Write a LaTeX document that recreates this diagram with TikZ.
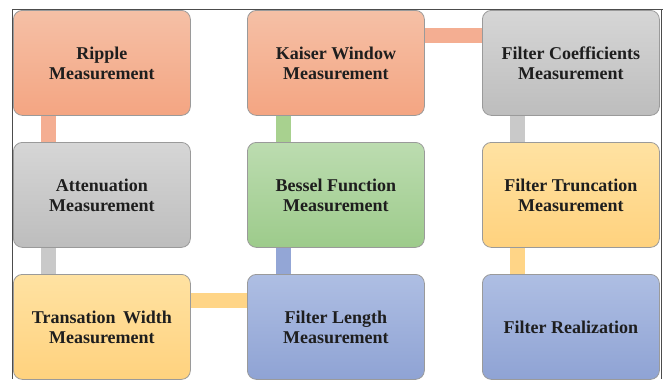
\documentclass[tikz,border=0pt]{standalone}
\usepackage{fontspec}
\setmainfont{Liberation Serif}
\usetikzlibrary{backgrounds}
\definecolor{orT}{HTML}{F5C0A6}\definecolor{orB}{HTML}{F4A582}\definecolor{orC}{HTML}{F4AE92}
\definecolor{grT}{HTML}{D6D6D6}\definecolor{grB}{HTML}{BDBDBD}\definecolor{grC}{HTML}{C9C9C9}
\definecolor{gnT}{HTML}{BCDCB0}\definecolor{gnB}{HTML}{9DCB8B}\definecolor{gnC}{HTML}{A8D18F}
\definecolor{ylT}{HTML}{FFE2A2}\definecolor{ylB}{HTML}{FFD27E}\definecolor{ylC}{HTML}{FFD587}
\definecolor{blT}{HTML}{AEBEE3}\definecolor{blB}{HTML}{8FA3D4}\definecolor{blC}{HTML}{93A6D6}
\definecolor{edge}{HTML}{9A9A9A}
\definecolor{txt}{HTML}{1E1E1E}
\tikzset{
  x=1bp,y=-1bp,
  box/.style={draw=edge,line width=0.8bp,rounded corners=9bp,minimum width=177bp,minimum height=105bp,
    anchor=north west,inner sep=2bp,align=center,text=txt,
    font=\fontsize{18bp}{20bp}\selectfont\bfseries},
  orbox/.style={box,top color=orT,bottom color=orB},
  grbox/.style={box,top color=grT,bottom color=grB},
  gnbox/.style={box,top color=gnT,bottom color=gnB},
  ylbox/.style={box,top color=ylT,bottom color=ylB},
  blbox/.style={box,top color=blT,bottom color=blB},
  conn/.style={line width=15bp},
  frame/.style={draw=black!70,line width=0.9bp}
}
\begin{document}
\begin{tikzpicture}
\useasboundingbox (0,0) rectangle (663,379);
\draw[frame] (12,379) -- (12,9) -- (663,9);
\draw[frame] (661,9) -- (661,379);
\node[orbox] (ripple) at (13,10) {Ripple\\Measurement};
\node[orbox] (kaiser) at (247,10) {Kaiser Window\\Measurement};
\node[grbox] (coeff) at (482,10) {Filter Coefficients\\Measurement};
\node[grbox] (atten) at (13,142) {Attenuation\\Measurement};
\node[gnbox] (bessel) at (247,142) {Bessel Function\\Measurement};
\node[ylbox] (trunc) at (482,142) {Filter Truncation\\Measurement};
\node[ylbox] (trans) at (13,274) {Transation\, Width\\Measurement};
\node[blbox] (length) at (247,274) {Filter Length\\Measurement};
\node[blbox] (real) at (482,274) {Filter Realization};
\begin{scope}[on background layer]
\draw[conn,orC] ([xshift=35.5bp]ripple.south west) -- ([xshift=35.5bp]atten.north west);
\draw[conn,grC] ([xshift=35.5bp]atten.south west) -- ([xshift=35.5bp]trans.north west);
\draw[conn,ylC] ([yshift=-26bp]trans.north east) -- ([yshift=-26bp]length.north west);
\draw[conn,blC] ([xshift=36bp]length.north west) -- ([xshift=36bp]bessel.south west);
\draw[conn,gnC] ([xshift=36bp]bessel.north west) -- ([xshift=36bp]kaiser.south west);
\draw[conn,orC] ([yshift=-25.5bp]kaiser.north east) -- ([yshift=-25.5bp]coeff.north west);
\draw[conn,grC] ([xshift=35.5bp]coeff.south west) -- ([xshift=35.5bp]trunc.north west);
\draw[conn,ylC] ([xshift=35.5bp]trunc.south west) -- ([xshift=35.5bp]real.north west);
\end{scope}
\end{tikzpicture}
\end{document}
